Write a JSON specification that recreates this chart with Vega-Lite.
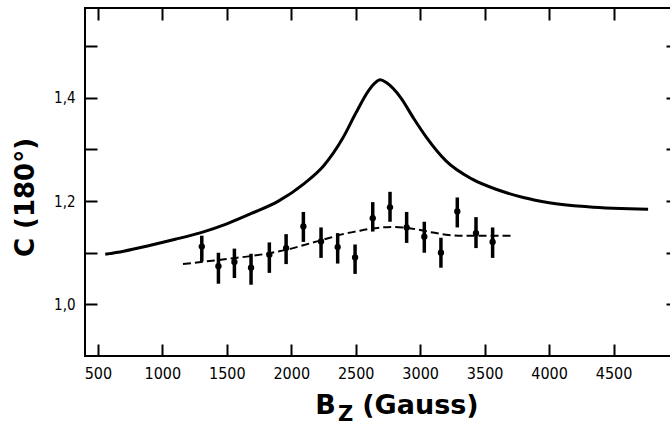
{
  "$schema": "https://vega.github.io/schema/vega-lite/v6.json",
  "autosize": "none",
  "padding": {"left": 85, "top": 8, "right": -8, "bottom": 70},
  "width": 593,
  "height": 348,
  "background": "white",
  "config": {
    "view": {"stroke": "black", "strokeWidth": 2},
    "axis": {
      "grid": false,
      "domain": false,
      "tickColor": "black",
      "tickWidth": 2,
      "tickSize": 12,
      "offset": -12,
      "labelColor": "black",
      "labelFont": "DejaVu Sans Condensed, DejaVu Sans",
      "titleColor": "black",
      "titleFont": "DejaVu Sans",
      "titleFontWeight": "bold"
    }
  },
  "datasets": {
    "theory": [
      {"B": 557, "C": 1.097},
      {"B": 700, "C": 1.103},
      {"B": 900, "C": 1.114},
      {"B": 1100, "C": 1.126},
      {"B": 1300, "C": 1.139},
      {"B": 1500, "C": 1.156},
      {"B": 1700, "C": 1.177},
      {"B": 1900, "C": 1.200},
      {"B": 2100, "C": 1.234},
      {"B": 2250, "C": 1.268},
      {"B": 2400, "C": 1.322},
      {"B": 2500, "C": 1.370},
      {"B": 2600, "C": 1.414},
      {"B": 2650, "C": 1.429},
      {"B": 2690, "C": 1.435},
      {"B": 2740, "C": 1.429},
      {"B": 2850, "C": 1.400},
      {"B": 2950, "C": 1.360},
      {"B": 3050, "C": 1.323},
      {"B": 3200, "C": 1.278},
      {"B": 3400, "C": 1.243},
      {"B": 3600, "C": 1.222},
      {"B": 3800, "C": 1.207},
      {"B": 4000, "C": 1.197},
      {"B": 4300, "C": 1.189},
      {"B": 4768, "C": 1.184}
    ],
    "fit": [
      {"B": 1160, "C": 1.078},
      {"B": 1300, "C": 1.082},
      {"B": 1500, "C": 1.088},
      {"B": 1700, "C": 1.094},
      {"B": 1850, "C": 1.100},
      {"B": 2000, "C": 1.108},
      {"B": 2100, "C": 1.115},
      {"B": 2200, "C": 1.122},
      {"B": 2300, "C": 1.129},
      {"B": 2400, "C": 1.136},
      {"B": 2500, "C": 1.141},
      {"B": 2600, "C": 1.146},
      {"B": 2700, "C": 1.149},
      {"B": 2800, "C": 1.150},
      {"B": 2900, "C": 1.148},
      {"B": 3000, "C": 1.144},
      {"B": 3100, "C": 1.139},
      {"B": 3200, "C": 1.135},
      {"B": 3300, "C": 1.133},
      {"B": 3400, "C": 1.133},
      {"B": 3550, "C": 1.133},
      {"B": 3720, "C": 1.133}
    ],
    "measured": [
      {"B": 1306, "C": 1.112, "lo": 1.083, "hi": 1.133},
      {"B": 1435, "C": 1.074, "lo": 1.040, "hi": 1.100},
      {"B": 1559, "C": 1.082, "lo": 1.051, "hi": 1.108},
      {"B": 1688, "C": 1.071, "lo": 1.038, "hi": 1.098},
      {"B": 1830, "C": 1.096, "lo": 1.061, "hi": 1.120},
      {"B": 1960, "C": 1.109, "lo": 1.078, "hi": 1.136},
      {"B": 2094, "C": 1.151, "lo": 1.121, "hi": 1.179},
      {"B": 2231, "C": 1.122, "lo": 1.090, "hi": 1.149},
      {"B": 2360, "C": 1.111, "lo": 1.079, "hi": 1.138},
      {"B": 2495, "C": 1.091, "lo": 1.059, "hi": 1.116},
      {"B": 2632, "C": 1.167, "lo": 1.141, "hi": 1.198},
      {"B": 2766, "C": 1.188, "lo": 1.160, "hi": 1.218},
      {"B": 2895, "C": 1.149, "lo": 1.119, "hi": 1.179},
      {"B": 3032, "C": 1.131, "lo": 1.100, "hi": 1.160},
      {"B": 3161, "C": 1.100, "lo": 1.071, "hi": 1.129},
      {"B": 3288, "C": 1.180, "lo": 1.149, "hi": 1.207},
      {"B": 3433, "C": 1.138, "lo": 1.109, "hi": 1.169},
      {"B": 3562, "C": 1.121, "lo": 1.090, "hi": 1.149}
    ]
  },
  "layer": [
    {
      "data": {"name": "theory"},
      "mark": {"type": "line", "color": "black", "strokeWidth": 3, "interpolate": "monotone"},
      "encoding": {
        "x": {
          "field": "B", "type": "quantitative",
          "scale": {"domain": [400, 5000], "nice": false, "zero": false},
          "axis": {
            "orient": "bottom",
            "values": [500, 1000, 1500, 2000, 2500, 3000, 3500, 4000, 4500],
            "format": "d",
            "labelFontSize": 16,
            "labelPadding": 9,
            "title": "(Gauss)",
            "titleFontSize": 27,
            "titleAlign": "center",
            "titleBaseline": "alphabetic",
            "titleX": 335,
            "titleY": 69
          }
        },
        "y": {
          "field": "C", "type": "quantitative",
          "scale": {"domain": [0.9, 1.574], "nice": false, "zero": false},
          "axis": {
            "orient": "left",
            "values": [1.0, 1.1, 1.2, 1.3, 1.4, 1.5],
            "labelExpr": "round(datum.value * 10) % 2 == 0 ? replace(format(datum.value, '.1f'), '.', ',') : ''",
            "labelFontSize": 15,
            "labelPadding": 10,
            "title": "C (180°)",
            "titleFontSize": 26,
            "titleAngle": -90,
            "titleAlign": "center",
            "titleBaseline": "alphabetic",
            "titleX": -64,
            "titleY": 189
          }
        }
      }
    },
    {
      "data": {"name": "fit"},
      "mark": {"type": "line", "color": "black", "strokeWidth": 2, "strokeDash": [8, 4], "interpolate": "monotone"},
      "encoding": {
        "x": {
          "field": "B", "type": "quantitative",
          "scale": {"domain": [400, 5000], "nice": false, "zero": false},
          "axis": {
            "orient": "top",
            "values": [500, 1000, 1500, 2000, 2500, 3000, 3500, 4000, 4500],
            "labels": false,
            "title": null
          }
        },
        "y": {
          "field": "C", "type": "quantitative",
          "scale": {"domain": [0.9, 1.574], "nice": false, "zero": false},
          "axis": {
            "orient": "right",
            "values": [1.0, 1.1, 1.2, 1.3, 1.4, 1.5],
            "labels": false,
            "title": null
          }
        }
      }
    },
    {
      "data": {"name": "measured"},
      "mark": {"type": "rule", "color": "black", "strokeWidth": 3.5},
      "encoding": {
        "x": {
          "field": "B", "type": "quantitative",
          "scale": {"domain": [400, 5000], "nice": false, "zero": false},
          "axis": {
            "orient": "bottom",
            "labels": false,
            "ticks": false,
            "title": "B",
            "titleFontSize": 27,
            "titleAlign": "center",
            "titleBaseline": "alphabetic",
            "titleX": 240,
            "titleY": 69
          }
        },
        "y": {
          "field": "lo", "type": "quantitative",
          "scale": {"domain": [0.9, 1.574], "nice": false, "zero": false},
          "axis": null
        },
        "y2": {"field": "hi"}
      }
    },
    {
      "data": {"name": "measured"},
      "mark": {"type": "point", "shape": "circle", "filled": true, "color": "black", "opacity": 1, "size": 40},
      "encoding": {
        "x": {
          "field": "B", "type": "quantitative",
          "scale": {"domain": [400, 5000], "nice": false, "zero": false},
          "axis": {
            "orient": "bottom",
            "labels": false,
            "ticks": false,
            "title": "Z",
            "titleFontSize": 21,
            "titleAlign": "center",
            "titleBaseline": "alphabetic",
            "titleX": 260,
            "titleY": 76
          }
        },
        "y": {
          "field": "C", "type": "quantitative",
          "scale": {"domain": [0.9, 1.574], "nice": false, "zero": false},
          "axis": null
        }
      }
    }
  ],
  "resolve": {"axis": {"x": "independent", "y": "independent"}}
}
